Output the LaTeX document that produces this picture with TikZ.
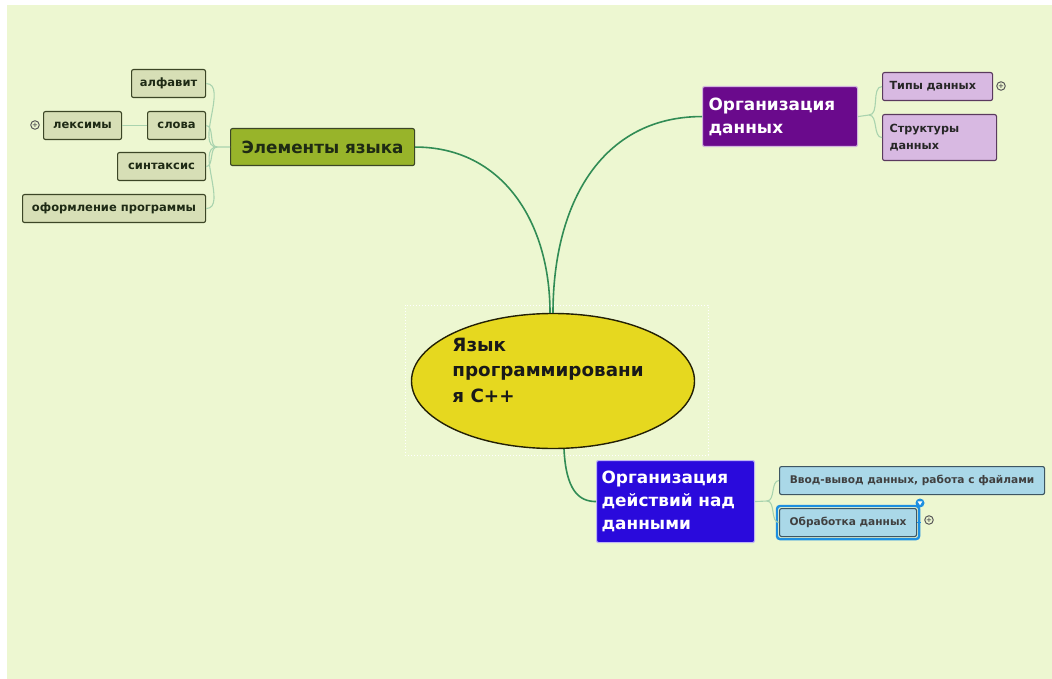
\documentclass[tikz,border=0pt]{standalone}
\usepackage{fontspec}
\setmainfont{DejaVu Sans}
\usetikzlibrary{shapes.geometric}
\definecolor{bgcol}{HTML}{EDF7D1}
\definecolor{trunk}{HTML}{318C55}
\definecolor{twig}{HTML}{A9D3AE}
\definecolor{olive}{HTML}{98B42A}
\definecolor{oliveleaf}{HTML}{D7DFB6}
\definecolor{olivedark}{HTML}{3C4626}
\definecolor{plum}{HTML}{6A0A8C}
\definecolor{lilac}{HTML}{D8B9E2}
\definecolor{plumdark}{HTML}{5A3A5E}
\definecolor{royal}{HTML}{2A0ADC}
\definecolor{sky}{HTML}{AAD8E8}
\definecolor{skydark}{HTML}{3E5662}
\definecolor{selblue}{HTML}{1E8FE0}
\definecolor{sun}{HTML}{E6D81F}
\definecolor{ink}{HTML}{1E2A14}
\tikzset{
  x=1pt, y=-1pt,
  box/.style={rectangle, rounded corners=2pt, line width=1.1pt, inner sep=0pt, anchor=north west},
  topic/.style={box, draw=olivedark, fill=olive, text=ink,
    font=\fontsize{16.8}{20}\selectfont\bfseries},
  leafA/.style={box, draw=olivedark, fill=oliveleaf, text=ink,
    font=\fontsize{11.5}{13}\selectfont\bfseries},
  purpletopic/.style={box, draw=white!70!plum, fill=plum, text=white, align=left,
    font=\fontsize{16.9}{23}\selectfont\bfseries},
  leafB/.style={box, draw=plumdark, fill=lilac, text=black!85, align=left,
    font=\fontsize{11.2}{17}\selectfont\bfseries},
  bluetopic/.style={box, draw=white!70!royal, fill=royal, text=white, align=left,
    font=\fontsize{16.9}{23}\selectfont\bfseries},
  leafC/.style={box, draw=skydark, fill=sky, text=black!75,
    font=\fontsize{10.6}{12}\selectfont\bfseries},
  main/.style={draw=trunk, line width=1.6pt},
  branch/.style={draw=twig, line width=1.1pt},
  fold/.style={circle, draw=black!65, line width=1pt, fill=bgcol, inner sep=0pt,
    minimum size=8.5pt, font=\fontsize{7}{7}\selectfont\bfseries, text=black!65},
}
\begin{document}
\begin{tikzpicture}
\useasboundingbox (0,0) rectangle (1052,679);
\fill[white] (0,0) rectangle (1052,679);
\fill[bgcol] (7,5) rectangle (1052,679);

% selection frame and central topic
\draw[white, line width=1pt, dotted] (405,305) rectangle (708,455);
\node[ellipse, draw=black!85!sun, line width=1.4pt, fill=sun, minimum width=283pt,
  minimum height=135pt, inner sep=0pt] (c) at (553,381) {};
\node[align=left, font=\fontsize{18.3}{25.5}\selectfont\bfseries, text=black!90, inner sep=0pt]
  (ct) at (548,370) {Язык\\программировани\\я С++};

% main topics
\node[topic, minimum width=184pt, minimum height=37pt] (el) at (230,128) {Элементы языка};
\node[purpletopic, minimum width=155pt, minimum height=60pt, text width=143pt] (od) at (702,86)
  {Организация\\данных};
\node[bluetopic, minimum width=158pt, minimum height=82pt, text width=148pt] (oa) at (596,460)
  {Организация\\действий над\\данными};

% trunk connectors
\draw[main] (el.east) .. controls +(88,0) and +(0,-90) .. ([xshift=-3pt]c.north);
\draw[main] (od.west) .. controls +(-100,0) and +(0,-110) .. ([xshift=0pt]c.north);
\draw[main] ([xshift=11pt]c.south) .. controls +(2,40) and +(-18,0) .. (oa.west);

% left branch leaves
\node[leafA, minimum width=74pt, minimum height=28pt] (alf) at (131,69) {алфавит};
\node[leafA, minimum width=58pt, minimum height=28pt] (slv) at (147,111) {слова};
\node[leafA, minimum width=78pt, minimum height=28pt] (lex) at (43,111) {лексимы};
\node[leafA, minimum width=88pt, minimum height=28pt] (syn) at (117,152) {синтаксис};
\node[leafA, minimum width=183pt, minimum height=28pt] (frm) at (22,194) {оформление программы};
\node[fold] (lexfold) at (35,125) {+};

\coordinate (jl) at (217,147);
\draw[branch] (el.west) -- (jl);
\foreach \n in {alf,slv,syn,frm}
  \draw[branch] (jl) to[out=180, in=0, looseness=0.9] (\n.east);
\draw[branch] (slv.west) -- (lex.east);

% purple branch leaves
\node[leafB, minimum width=110pt, minimum height=28pt, text width=96pt] (tip) at (882,72) {Типы данных};
\node[leafB, minimum width=114pt, minimum height=46pt, text width=100pt] (str) at (882,114)
  {Структуры\\данных};
\node[fold] (tipfold) at (1001,86) {+};

\coordinate (jr) at (869,115);
\draw[branch] (od.east) -- (jr);
\foreach \n in {tip,str}
  \draw[branch] (jr) to[out=0, in=180, looseness=0.9] (\n.west);

% blue branch leaves
\node[leafC, minimum width=265pt, minimum height=28pt] (io) at (779,466)
  {Ввод-вывод данных, работа с файлами};
\node[leafC, minimum width=137pt, minimum height=28pt] (proc) at (779,508) {Обработка данных};
\draw[selblue, line width=2.4pt, rounded corners=3pt] ([shift={(-2,-2)}]proc.north west) rectangle ([shift={(2,2)}]proc.south east);
\node[fold] (procfold) at (929,520) {+};
\node[circle, fill=selblue, inner sep=0pt, minimum size=9pt] (pin) at (920,503) {};
\fill[white] ([shift={(-2.4,-1.6)}]pin.center) -- ([shift={(2.4,-1.6)}]pin.center) -- ([shift={(0,2.2)}]pin.center) -- cycle;
\draw[selblue, line width=1.6pt] (proc.east) -- +(4,0);

\coordinate (jb) at (767,501);
\draw[branch] (oa.east) -- (jb);
\foreach \n in {io,proc}
  \draw[branch] (jb) to[out=0, in=180, looseness=0.9] (\n.west);
\end{tikzpicture}
\end{document}
